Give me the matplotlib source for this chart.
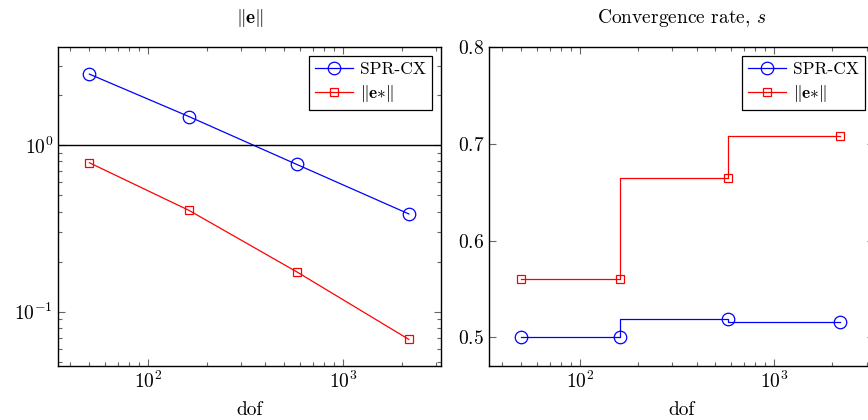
import matplotlib
matplotlib.use("Agg")
import matplotlib.pyplot as plt
from matplotlib.ticker import LogLocator, NullFormatter

# --- data ---
dof = [50, 162, 578, 2178]
err_spr = [2.68, 1.49, 0.769, 0.387]
err_star = [0.786, 0.407, 0.174, 0.0682]
rate_spr = [0.5, 0.5, 0.519, 0.516]
rate_star = [0.56, 0.56, 0.665, 0.708]

plt.rcParams["font.family"] = "cmr10"
plt.rcParams["mathtext.fontset"] = "cm"
plt.rcParams["axes.formatter.use_mathtext"] = True
plt.rcParams["font.size"] = 14

fig = plt.figure(figsize=(8.68, 4.2), dpi=100)
ax1 = fig.add_axes([58 / 868, 54 / 420, 383 / 868, 319 / 420])
ax2 = fig.add_axes([489 / 868, 54 / 420, 385 / 868, 319 / 420])

blue = (0, 0, 1)
red = (1, 0, 0)
star_label = r"$\|\mathbf{e}{\ast}\|$"

# left panel: error norms
ax1.plot(dof, err_spr, color=blue, lw=0.9, marker="o", ms=9, mfc="none",
         mew=0.9, label="SPR-CX")
ax1.plot(dof, err_star, color=red, lw=0.9, marker="s", ms=6, mfc="none",
         mew=0.9, label=star_label)
ax1.axhline(1.0, color="black", lw=1.0)
ax1.set_xscale("log")
ax1.set_yscale("log")
ax1.set_xlim(10 ** 1.538, 10 ** 3.503)
ax1.set_ylim(0.0472, 3.9)
ax1.set_title(r"$\|\mathbf{e}\|$", pad=17, fontsize=14)

# right panel: convergence rate
ax2.step(dof, rate_spr, where="pre", color=blue, lw=0.9)
ax2.plot(dof, rate_spr, ls="none", color=blue, marker="o", ms=9,
         mfc="none", mew=0.9)
ax2.step(dof, rate_star, where="pre", color=red, lw=0.9)
ax2.plot(dof, rate_star, ls="none", color=red, marker="s", ms=6,
         mfc="none", mew=0.9)
# legend proxies
ax2.plot([], [], color=blue, lw=0.9, marker="o", ms=9, mfc="none", mew=0.9,
         label="SPR-CX")
ax2.plot([], [], color=red, lw=0.9, marker="s", ms=6, mfc="none", mew=0.9,
         label=star_label)
ax2.set_xscale("log")
ax2.set_xlim(10 ** 1.533, 10 ** 3.515)
ax2.set_ylim(0.4703, 0.8)
ax2.set_yticks([0.5, 0.6, 0.7, 0.8])
ax2.set_title("Convergence rate, $s$", pad=17, fontsize=14)

for ax in (ax1, ax2):
    ax.set_xlabel("dof", labelpad=6)
    ax.xaxis.set_minor_locator(LogLocator(base=10, subs=range(2, 10)))
    ax.xaxis.set_minor_formatter(NullFormatter())
    ax.tick_params(which="both", direction="in", top=True, right=True,
                   color="0.4", width=0.8)
    ax.tick_params(which="major", length=5)
    ax.tick_params(which="minor", length=3)
    for s in ax.spines.values():
        s.set_linewidth(1.0)
    leg = ax.legend(loc="upper right", fancybox=False, edgecolor="black",
                    framealpha=1, numpoints=1, handlelength=2.2,
                    borderaxespad=0.5, handletextpad=0.4, fontsize=12.5,
                    borderpad=0.35, labelspacing=0.35)
    leg.get_frame().set_linewidth(0.9)

ax1.yaxis.set_minor_locator(LogLocator(base=10, subs=range(2, 10)))
ax1.yaxis.set_minor_formatter(NullFormatter())

fig.savefig("out.png", dpi=100)
